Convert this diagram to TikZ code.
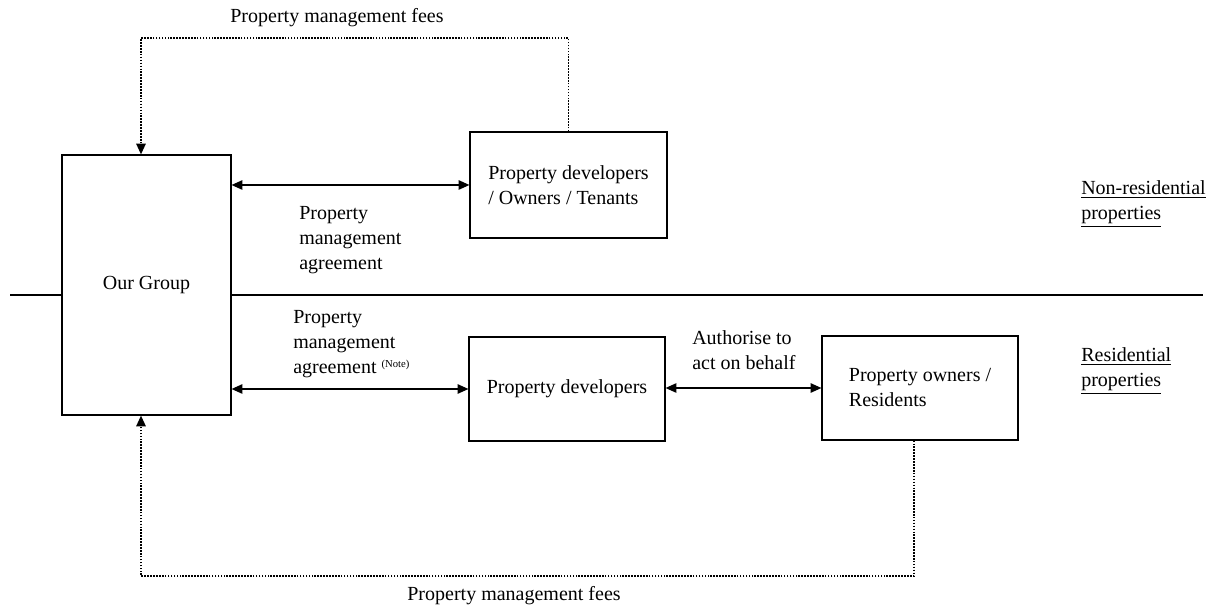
\documentclass[tikz,border=0pt]{standalone}
\usepackage{fontspec}
\setmainfont{Liberation Serif}
\usetikzlibrary{arrows.meta}
\usetikzlibrary{positioning}
\tikzset{every picture/.style={/utils/exec={\fontsize{15}{18.75}\selectfont}}}
\tikzset{
  box/.style={draw, fill=white, line width=0.9pt, align=left},
  link/.style={line width=1pt, {Triangle[length=8pt,width=7pt]}-{Triangle[length=8pt,width=7pt]}},
  fee/.style={densely dotted, line width=1.2pt, -{Triangle[length=8pt,width=7pt]}},
  lbl/.style={align=left, inner sep=0, anchor=base west},
}

\begin{document}
\begin{tikzpicture}[x=0.75pt, y=-0.75pt]
  \useasboundingbox (0,0) rectangle (1213,605);

  % split between the two kinds of properties
  \draw [line width=0.8pt] (10,295) -- (1203,295);
  \node [lbl] (nonres) at (1081,220) {\underline{Non-residential}\\\underline{properties}};
  \node [lbl] (res) at (1081,387) {\underline{Residential}\\\underline{properties}};

  % boxes
  \node [box, minimum width=126.75pt, minimum height=195pt] (grp) at (146.5,285) {Our Group};
  \node [box, minimum width=147.75pt, minimum height=79.5pt] (pdo) at (568.5,185) {Property developers\\/ Owners / Tenants};
  \node [box, minimum width=147pt, minimum height=78pt] (pd) at (567,389) {Property developers};
  \node [box, minimum width=147pt, minimum height=78pt] (po) at (920,388) {Property owners /\\Residents};

  % agreements
  \draw [link] (grp.east |- pdo) -- (pdo.west);
  \node [lbl] (agrtop) at (299,270) {Property\\management\\agreement};
  \draw [link] (grp.east |- pd) -- (pd.west);
  \node [lbl] (agrbot) at (293,374) {Property\\management\\agreement \raisebox{5pt}{\fontsize{8}{8}\selectfont (Note)}};
  \draw [link] (pd.east |- po) -- (po.west);
  \node [lbl] (auth) at (692,370) {Authorise to\\act on behalf};

  % fees
  \coordinate (feetop) at (141,38);
  \coordinate (feebot) at (141,576);
  \draw [fee] (pdo.north) |- (feetop) -- (feetop |- grp.north);
  \draw [fee] ([xshift=-4.5pt]po.south) |- (feebot) -- (feebot |- grp.south);
  \node [anchor=base] (feetxt) at (337,23) {Property management fees};
  \node [anchor=base] (feebtxt) at (514,600) {Property management fees};
\end{tikzpicture}
\end{document}
